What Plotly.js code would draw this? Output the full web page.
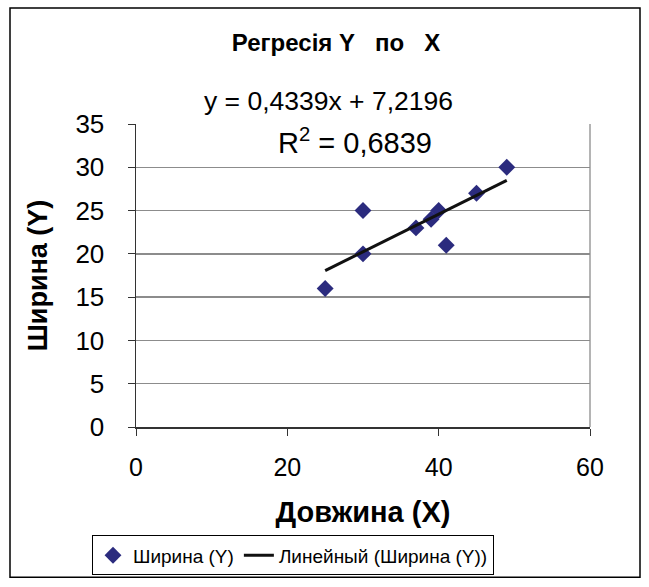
<!DOCTYPE html>
<html><head><meta charset="utf-8">
<script src="https://cdn.plot.ly/plotly-3.0.1.min.js"></script>
<style>body{margin:0;background:#fff}#c{width:649px;height:587px}</style>
</head><body><div id="c"></div>
<script>
const lengthX = [25, 30, 30, 37, 39, 40, 41, 45, 49];
const widthY  = [16, 20, 25, 23, 24, 25, 21, 27, 30];
const slope = 0.4339, intercept = 7.2196, r2 = 0.6839;
const seriesName = 'Ширина (Y)';
const trendName = 'Линейный (Ширина (Y))';
const xTicks = [0, 20, 40, 60];
const yTicks = [0, 5, 10, 15, 20, 25, 30, 35];

const xmin = Math.min(...lengthX), xmax = Math.max(...lengthX);
const trendX = [xmin, xmax];
const trendY = trendX.map(x => slope * x + intercept);
const fmt = v => String(v).replace('.', ',');

const F = 'Arial, "Liberation Sans", sans-serif';
// plot area pixels
const L = 136, R = 590, T = 124.5, B = 429;
const W = 649, H = 587;
const px = x => (x - L) / (R - L);
const py = y => (B - y) / (B - T);

const data = [
  {x: lengthX, y: widthY, mode: 'markers', type: 'scatter', name: seriesName,
   marker: {symbol: 'diamond', size: 13, color: '#2B2B7E'}},
  {x: trendX, y: trendY, mode: 'lines', type: 'scatter', name: trendName,
   line: {color: '#111111', width: 3}}
];

const layout = {
  width: W, height: H,
  margin: {l: L, r: W - R, t: T, b: H - B},
  paper_bgcolor: '#fff', plot_bgcolor: '#fff',
  font: {family: F, color: '#000', size: 18},
  showlegend: true,
  title: {text: '<b>Регресія Y\u00a0\u00a0 по\u00a0\u00a0 X</b>', font: {size: 24, family: F},
          x: 336 / W, xanchor: 'center', y: 1 - 43 / H, yanchor: 'middle'},
  xaxis: {range: [0, 60], tickvals: xTicks, ticks: 'outside', ticklen: 7, tickcolor: '#333',
          showline: true, linecolor: '#333', linewidth: 1.5, showgrid: false, zeroline: false,
          tickfont: {size: 25}, ticklabelstandoff: 10,
          title: {text: '<b>Довжина (X)</b>', font: {size: 29}, standoff: 22}},
  yaxis: {range: [0, 35], tickvals: yTicks, ticks: 'outside', ticklen: 7, tickcolor: '#333',
          showline: true, linecolor: '#333', linewidth: 1.5, showgrid: true, gridcolor: '#8c8c8c',
          gridwidth: 1.3, zeroline: false, tickfont: {size: 26}, ticklabelstandoff: 18,
          title: {text: '<b>Ширина (Y)</b>', font: {size: 27}, standoff: 20}},
  legend: {orientation: 'h', x: px(92), xanchor: 'left', y: py(538), yanchor: 'top',
           bordercolor: '#000', borderwidth: 1, font: {size: 19}, bgcolor: '#fff',
           itemwidth: 30, tracegroupgap: 0},
  annotations: [
    {xref: 'paper', yref: 'paper', x: px(328), y: py(101), text: 'y = ' + fmt(slope) + 'x + ' + fmt(intercept),
     showarrow: false, font: {size: 26.5}, xanchor: 'center', yanchor: 'middle'},
    {xref: 'paper', yref: 'paper', x: px(355), y: py(142), text: 'R<sup>2</sup> = ' + fmt(r2),
     showarrow: false, font: {size: 29}, xanchor: 'center', yanchor: 'middle'}
  ],
  shapes: [
    {type: 'rect', xref: 'paper', yref: 'paper', x0: px(10), x1: px(640), y0: py(580), y1: py(8),
     line: {color: '#000', width: 1.5}, layer: 'below'},
    {type: 'line', xref: 'paper', yref: 'paper', x0: 1, x1: 1, y0: 0, y1: 1,
     line: {color: '#8c8c8c', width: 1.3}}
  ]
};

Plotly.newPlot('c', data, layout, {displayModeBar: false, staticPlot: true});
</script></body></html>
